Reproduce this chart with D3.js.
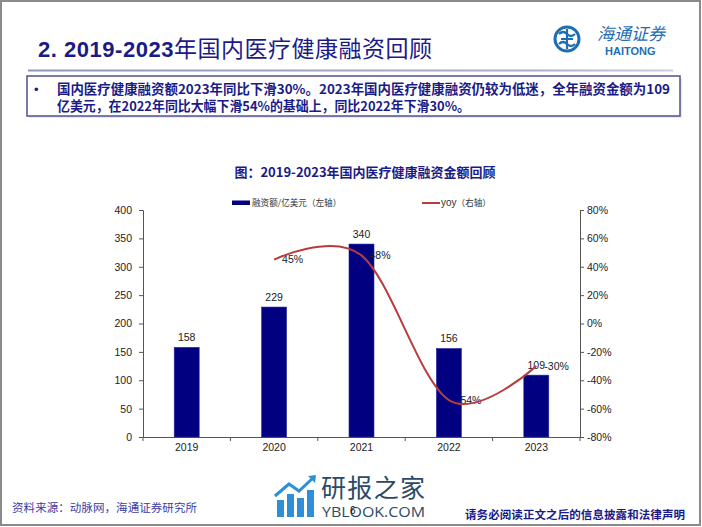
<!DOCTYPE html>
<html><head><meta charset="utf-8">
<script src="https://cdn.jsdelivr.net/npm/d3@7"></script>
<style>
html,body{margin:0;padding:0;background:#fff;}
svg{display:block;font-family:"Liberation Sans","Noto Sans CJK SC",Arial,sans-serif;}
</style></head>
<body>
<svg id="c" width="702" height="527"></svg>
<script>
const years = ["2019","2020","2021","2022","2023"];
const funding = [158, 229, 340, 156, 109];
const yoyYears = ["2020","2021","2022","2023"];
const yoy = [0.45, 0.48, -0.54, -0.30];
const yoyLabels = ["45%","48%","-54%","-30%"];
const leftTicks = [0,50,100,150,200,250,300,350,400];
const rightTicks = [-0.8,-0.6,-0.4,-0.2,0,0.2,0.4,0.6,0.8];

const svg = d3.select("#c");
const CJK = "'Noto Sans CJK SC','Liberation Sans',sans-serif";
const NAVY = "#1b1b87";

// frame
svg.append("rect").attr("x",1).attr("y",1).attr("width",699).attr("height",524)
  .attr("fill","#fff").attr("stroke","#8a8a8a").attr("stroke-width",2);

// header title
const ht = svg.append("text").attr("x",38).attr("y",57).attr("fill",NAVY)
  .attr("textLength",394).attr("lengthAdjust","spacing");
ht.append("tspan").attr("font-family","'Liberation Sans',Arial,sans-serif").attr("font-weight","bold").attr("font-size",22).text("2. 2019-2023");
ht.append("tspan").attr("font-family",CJK).attr("font-size",23).text("年国内医疗健康融资回顾");

// header rule
const grad = svg.append("defs").append("linearGradient").attr("id","hg").attr("x1","0").attr("x2","1");
grad.append("stop").attr("offset","0").attr("stop-color","#8e96b8");
grad.append("stop").attr("offset","0.8").attr("stop-color","#a9b0cc");
grad.append("stop").attr("offset","1").attr("stop-color","#c8d0e4");
svg.append("rect").attr("x",28).attr("y",69.5).attr("width",645).attr("height",2).attr("fill","url(#hg)");

// logo
const lg = svg.append("g").attr("stroke","#1f6db3").attr("fill","none");
lg.append("circle").attr("cx",567).attr("cy",39).attr("r",12).attr("stroke-width",3);
lg.append("path").attr("d","M559,34 Q563,30 567,34 Q571,38 575,34 M559,44 Q563,40 567,44 Q571,48 575,44 M567,29 L567,49 M561,39 L573,39").attr("stroke-width",2.2);
svg.append("text").attr("x",597).attr("y",40).attr("font-family",CJK).attr("font-style","italic")
  .attr("font-size",17).attr("fill","#1f6db3").text("海通证券");
svg.append("text").attr("x",605).attr("y",55).attr("font-weight","bold")
  .attr("font-size",11).attr("fill","#1f6db3").text("HAITONG");

// summary box
svg.append("rect").attr("x",29).attr("y",78).attr("width",653).attr("height",40).attr("fill","#e6e6ee");
svg.append("rect").attr("x",27).attr("y",76).attr("width",653).attr("height",40)
  .attr("fill","#fff").attr("stroke","#50508f").attr("stroke-width",1.5);
svg.append("text").attr("x",34).attr("y",94).attr("font-size",13).attr("fill",NAVY).text("•");
const line1 = "国内医疗健康融资额2023年同比下滑30%。2023年国内医疗健康融资仍较为低迷，全年融资金额为109";
const line2 = "亿美元，在2022年同比大幅下滑54%的基础上，同比2022年下滑30%。";
svg.append("text").attr("x",57).attr("y",94).attr("font-family",CJK).attr("font-weight","bold")
  .attr("font-size",13.2).attr("fill",NAVY).attr("textLength",613).attr("lengthAdjust","spacingAndGlyphs").text(line1);
svg.append("text").attr("x",57).attr("y",110.5).attr("font-family",CJK).attr("font-weight","bold")
  .attr("font-size",13.2).attr("fill",NAVY).attr("textLength",413).attr("lengthAdjust","spacingAndGlyphs").text(line2);

// chart title
svg.append("text").attr("x",365).attr("y",177).attr("text-anchor","middle").attr("font-family",CJK)
  .attr("font-weight","bold").attr("font-size",13).attr("fill",NAVY)
  .text("图：2019-2023年国内医疗健康融资金额回顾");

// scales
const x = d3.scaleBand().domain(years).range([143,580]).padding(0);
const yL = d3.scaleLinear().domain([0,400]).range([437,210]);
const yR = d3.scaleLinear().domain([-0.8,0.8]).range([437,210]);
const barW = 25;

// axes
const axL = svg.append("g").attr("transform","translate(143,0)")
  .call(d3.axisLeft(yL).tickValues(leftTicks).tickSize(4).tickPadding(7));
const axR = svg.append("g").attr("transform","translate(580,0)")
  .call(d3.axisRight(yR).tickValues(rightTicks).tickSize(4).tickPadding(3).tickFormat(d3.format(".0%")));
const axX = svg.append("g").attr("transform","translate(0,437)")
  .call(d3.axisBottom(x).tickSize(0).tickPadding(7));
// category boundary ticks
axX.selectAll(".bt").data(d3.range(years.length+1)).enter().append("line")
  .attr("x1",i=>143+i*x.step()).attr("x2",i=>143+i*x.step()).attr("y1",0).attr("y2",4).attr("stroke","#555");
[axL,axR,axX].forEach(a=>{
  a.selectAll("path.domain").attr("stroke","#555");
  a.selectAll(".tick line").attr("stroke","#555");
  a.selectAll("text").attr("font-family","'Liberation Sans',Arial,sans-serif").attr("font-size",10.5).attr("fill","#222");
});
axR.selectAll("text").text(d=>d3.format(".0%")(d).replace("−","-"));

// bars
svg.append("g").selectAll("rect").data(years).enter().append("rect")
  .attr("x",d=>x(d)+x.bandwidth()/2-barW/2).attr("width",barW)
  .attr("y",(d,i)=>yL(funding[i])).attr("height",(d,i)=>yL(0)-yL(funding[i]))
  .attr("fill","#000080").attr("stroke","#2a2aa0").attr("stroke-width",0.6);

// bar labels
svg.append("g").selectAll("text").data(years).enter().append("text")
  .attr("x",d=>x(d)+x.bandwidth()/2).attr("y",(d,i)=>yL(funding[i])-10)
  .attr("dy","0.35em").attr("text-anchor","middle").attr("font-size",10.5).attr("fill","#222")
  .text((d,i)=>funding[i]);

// yoy labels
svg.append("g").selectAll("text").data(yoyYears).enter().append("text")
  .attr("x",d=>x(d)+x.bandwidth()/2+8).attr("y",(d,i)=>yR(yoy[i]))
  .attr("dy","0.35em").attr("font-size",10.5).attr("fill","#222")
  .text((d,i)=>yoyLabels[i]);

// yoy line
const lineGen = d3.line().x(d=>x(d.y)+x.bandwidth()/2).y(d=>yR(d.v)).curve(d3.curveCardinal.tension(0));
svg.append("path").datum(yoyYears.map((y,i)=>({y:y,v:yoy[i]})))
  .attr("d",lineGen).attr("fill","none").attr("stroke","#b83c3e").attr("stroke-width",2);

// legend
svg.append("rect").attr("x",232).attr("y",200.5).attr("width",18).attr("height",4.5).attr("fill","#000080");
svg.append("text").attr("x",252).attr("y",203).attr("dy","0.35em").attr("font-family",CJK)
  .attr("font-size",8.6).attr("fill","#333").text("融资额/亿美元（左轴）");
svg.append("line").attr("x1",422).attr("x2",440).attr("y1",203).attr("y2",203)
  .attr("stroke","#b83c3e").attr("stroke-width",2);
svg.append("text").attr("x",441).attr("y",203).attr("dy","0.35em").attr("font-family",CJK)
  .attr("font-size",8.6).attr("fill","#333")
  .call(t=>{t.append("tspan").attr("font-family","'Liberation Sans',Arial,sans-serif").attr("font-size",10).text("yoy");
            t.append("tspan").text("（右轴）");});

// footer source
svg.append("text").attr("x",12).attr("y",512).attr("font-family",CJK).attr("font-size",11.5)
  .attr("fill","#3b3ba6").attr("textLength",185).attr("lengthAdjust","spacing").text("资料来源：动脉网，海通证券研究所");
svg.append("text").attr("x",465).attr("y",519).attr("font-family",CJK).attr("font-weight","bold").attr("font-size",11.5)
  .attr("fill",NAVY).attr("textLength",220).attr("lengthAdjust","spacing").text("请务必阅读正文之后的信息披露和法律声明");

// watermark
const wm = svg.append("g").attr("fill","#2e8fd6");
[[277,500,7],[287,494,7],[297,498,7],[307,490,7]].forEach(b=>wm.append("rect").attr("x",b[0]).attr("y",b[1]).attr("width",b[2]).attr("height",517-b[1]));
svg.append("path").attr("d","M275,496 L289,484 L299,491 L313,478").attr("fill","none").attr("stroke","#2e8fd6").attr("stroke-width",3);
svg.append("path").attr("d","M308,476 L316,475 L315,483 Z").attr("fill","#2e8fd6");
svg.append("text").attr("x",321).attr("y",497).attr("font-family",CJK).attr("font-size",25)
  .attr("fill","#2b4a68").attr("textLength",104).attr("lengthAdjust","spacing").text("研报之家");
svg.append("text").attr("x",322).attr("y",517).attr("font-family","'Open Sans','Liberation Sans',sans-serif").attr("font-size",15)
  .attr("fill","#2b4a68").attr("textLength",103).attr("lengthAdjust","spacingAndGlyphs").text("YBLOOK.COM");
svg.append("text").attr("x",350).attr("y",514).attr("font-size",10).attr("fill","#111").text("6");
</script>
</body></html>
